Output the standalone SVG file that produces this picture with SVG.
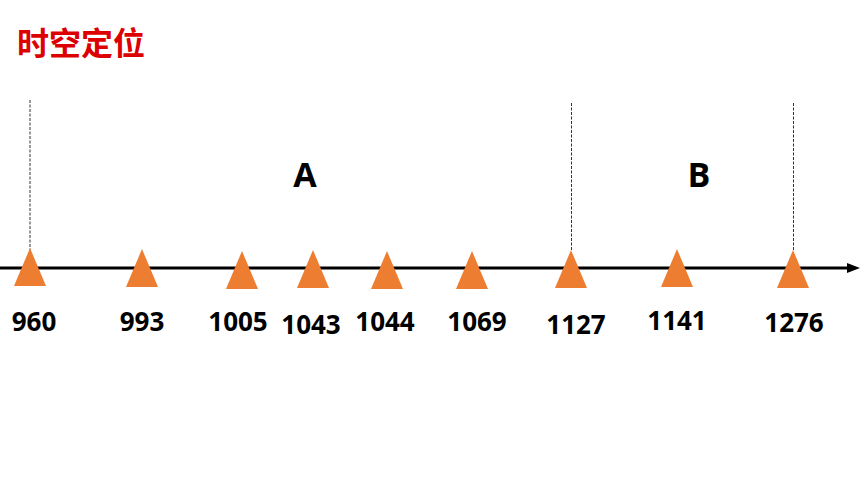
<svg xmlns="http://www.w3.org/2000/svg" width="860" height="484" viewBox="0 0 860 484">
<style>
.tri{fill:#ED7D31}
.lbl{font-family:"Open Sans","Noto Sans",sans-serif;font-weight:bold;font-size:26px;fill:#000;text-anchor:middle}
.big{font-family:"Open Sans","Noto Sans",sans-serif;font-weight:bold;font-size:34px;fill:#000;text-anchor:middle}
.dash{stroke:#333;stroke-width:1;stroke-dasharray:3,1.5;fill:none}
</style>
<rect width="860" height="484" fill="#fff"/>
<text x="17" y="55" font-family="'Noto Sans CJK SC',sans-serif" font-weight="bold" font-size="32" fill="#DC0000">时空定位</text>
<g id="connectors">
<line class="dash" x1="30" y1="100" x2="30" y2="250"/>
<line class="dash" x1="571.5" y1="103" x2="571.5" y2="250"/>
<line class="dash" x1="793.5" y1="103" x2="793.5" y2="250"/>
<line x1="0" y1="268" x2="850" y2="268" stroke="#000" stroke-width="3"/>
<polygon points="847,263 860,268 847,273" fill="#000"/>
</g>
<text class="big" x="305" y="187">A</text>
<text class="big" x="699" y="187">B</text>
<g id="n960"><polygon class="tri" points="30,248 46,286 14,286"/><text class="lbl" x="34" y="331">960</text></g>
<g id="n993"><polygon class="tri" points="142,249 158,287 126,287"/><text class="lbl" x="142" y="331">993</text></g>
<g id="n1005"><polygon class="tri" points="242,251 258,289 226,289"/><text class="lbl" x="238" y="331">1005</text></g>
<g id="n1043"><polygon class="tri" points="313,250 329,288 297,288"/><text class="lbl" x="311" y="334">1043</text></g>
<g id="n1044"><polygon class="tri" points="387,251 403,289 371,289"/><text class="lbl" x="385" y="331">1044</text></g>
<g id="n1069"><polygon class="tri" points="472,251 488,289 456,289"/><text class="lbl" x="477" y="331">1069</text></g>
<g id="n1127"><polygon class="tri" points="571,250 587,288 555,288"/><text class="lbl" x="576" y="334">1127</text></g>
<g id="n1141"><polygon class="tri" points="677,249 693,287 661,287"/><text class="lbl" x="677" y="330">1141</text></g>
<g id="n1276"><polygon class="tri" points="793,250 809,288 777,288"/><text class="lbl" x="794" y="332">1276</text></g>
</svg>
